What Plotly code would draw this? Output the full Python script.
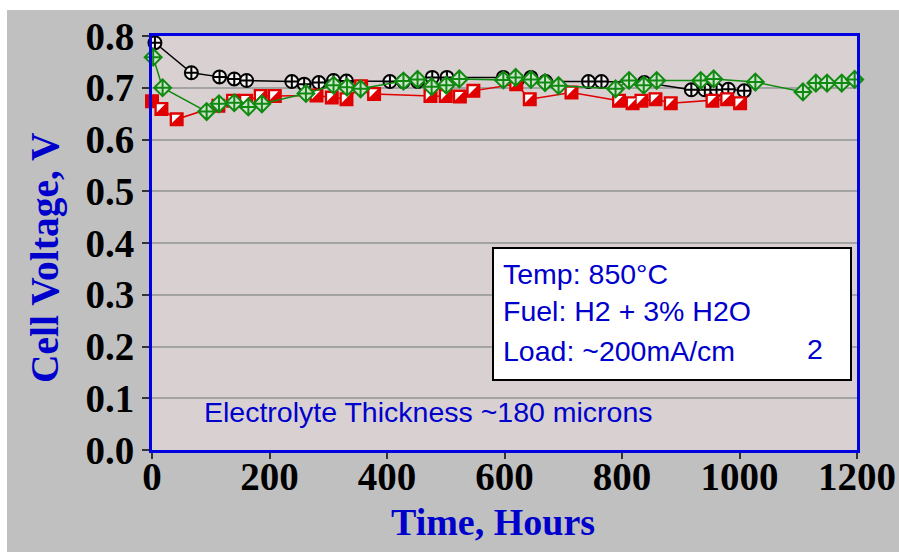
import plotly.graph_objects as go

# ---------------- data ----------------
black_t = [5, 67, 115, 140, 161, 238, 259, 284, 309, 331, 405, 428, 452, 477, 502,
           598, 622, 645, 670, 743, 765, 838, 918, 941, 961, 981, 1008]
black_v = [0.787, 0.729, 0.721, 0.717, 0.714, 0.712, 0.707, 0.710, 0.714, 0.713,
           0.712, 0.712, 0.712, 0.720, 0.720, 0.720, 0.715, 0.720, 0.712, 0.712,
           0.712, 0.710, 0.696, 0.696, 0.696, 0.697, 0.694]

red_t = [0, 16, 42, 113, 138, 160, 185, 209, 280, 306, 331, 356, 378, 474, 500,
         524, 547, 620, 643, 714, 795, 818, 833, 857, 883, 954, 979, 1001]
red_v = [0.674, 0.659, 0.639, 0.665, 0.675, 0.675, 0.684, 0.684, 0.685, 0.681,
         0.678, 0.703, 0.688, 0.684, 0.684, 0.683, 0.694, 0.707, 0.678, 0.691,
         0.675, 0.670, 0.675, 0.678, 0.670, 0.675, 0.678, 0.670]

green_t = [2, 18, 93, 114, 140, 164, 187, 262, 309, 332, 355, 428, 452, 476, 501,
           523, 598, 619, 645, 669, 692, 789, 812, 837, 859, 934, 956, 1027, 1108,
           1130, 1149, 1174, 1196]
green_v = [0.759, 0.700, 0.654, 0.669, 0.671, 0.663, 0.669, 0.689, 0.705, 0.701,
           0.698, 0.713, 0.716, 0.702, 0.705, 0.717, 0.715, 0.720, 0.716, 0.710,
           0.704, 0.698, 0.714, 0.705, 0.714, 0.714, 0.717, 0.711, 0.692, 0.709,
           0.709, 0.709, 0.716]

x_ticks = [0, 200, 400, 600, 800, 1000, 1200]
y_ticks = [0.0, 0.1, 0.2, 0.3, 0.4, 0.5, 0.6, 0.7, 0.8]

info_lines = ["Temp: 850°C", "Fuel: H2 + 3% H2O", "Load: ~200mA/cm"]
info_sup = "2"
note_text = "Electrolyte Thickness ~180 microns"
x_title = "Time, Hours"
y_title = "Cell Voltage, V"

# ---------------- layout constants ----------------
W, H = 899, 552
ML, MR, MT, MB = 152, 42, 36, 102
PW, PH = W - ML - MR, H - MT - MB
XR = [0, 1200]
YR = [0, 0.8]
px_per_x = PW / (XR[1] - XR[0])
px_per_y = PH / (YR[1] - YR[0])
MSIZE = 13
SHIFT = 1.9  # px offset of the white half of the red square markers

BLUE = "#0000e0"
TXT_BLUE = "#0000cc"
PLOT_BG = "#d9d1d1"
PAPER_BG = "#c0c0c0"


def px2paper_x(px):
    return (px - ML) / PW


def px2paper_y(py):
    return (H - MB - py) / PH


fig = go.Figure()

# black series
fig.add_trace(go.Scatter(
    x=black_t, y=black_v, mode="lines+markers", cliponaxis=False,
    line=dict(color="black", width=1.5),
    marker=dict(symbol="circle-cross", size=MSIZE, color="#f4f2f2",
                line=dict(color="black", width=2)),
    showlegend=False, hoverinfo="skip"))

# red series (squares)
fig.add_trace(go.Scatter(
    x=red_t, y=red_v, mode="lines+markers", cliponaxis=False,
    line=dict(color="#e00000", width=1.5),
    marker=dict(symbol="square", size=MSIZE - 0.5, color="#e00000",
                line=dict(color="#e00000", width=1.5)),
    showlegend=False, hoverinfo="skip"))

# white upper-left half of the red squares (drawn on slightly shifted overlay axes)
fig.add_trace(go.Scatter(
    x=red_t, y=red_v, xaxis="x2", yaxis="y2", mode="markers", cliponaxis=False,
    marker=dict(symbol="triangle-nw", size=9.2, color="white", line=dict(width=0)),
    showlegend=False, hoverinfo="skip"))

# green series
fig.add_trace(go.Scatter(
    x=green_t, y=green_v, xaxis="x3", yaxis="y3", mode="lines+markers", cliponaxis=False,
    line=dict(color="#108a10", width=1.5),
    marker=dict(symbol="diamond-cross", size=MSIZE, color="#cfe3cf",
                line=dict(color="#108a10", width=2)),
    showlegend=False, hoverinfo="skip"))

tickfont = dict(family="Liberation Serif", size=39, color="black", weight="bold")

fig.update_layout(
    width=W, height=H,
    margin=dict(l=ML, r=MR, t=MT, b=MB, pad=0, autoexpand=False),
    paper_bgcolor=PAPER_BG, plot_bgcolor=PLOT_BG,
    showlegend=False,
    xaxis=dict(range=XR, tickvals=x_ticks, ticktext=[str(v) for v in x_ticks],
               ticks="outside", ticklen=6, tickwidth=1.5, tickcolor="#333333",
               ticklabelstandoff=-16, automargin=False,
               showgrid=False, zeroline=False,
               showline=True, linecolor=BLUE, linewidth=3, mirror=True,
               tickfont=tickfont),
    yaxis=dict(range=YR, tickvals=y_ticks, ticktext=[f"{v:.1f}" for v in y_ticks],
               ticks="outside", ticklen=7, tickwidth=1.5, tickcolor="#333333",
               automargin=False,
               showgrid=True, gridcolor="#a3a3a3", gridwidth=1.5, zeroline=False,
               showline=True, linecolor=BLUE, linewidth=3, mirror=True,
               tickfont=tickfont),
    xaxis2=dict(overlaying="x", visible=False, automargin=False,
                range=[XR[0] + SHIFT / px_per_x, XR[1] + SHIFT / px_per_x]),
    yaxis2=dict(overlaying="y", visible=False, automargin=False,
                range=[YR[0] - SHIFT / px_per_y, YR[1] - SHIFT / px_per_y]),
    xaxis3=dict(overlaying="x", visible=False, automargin=False, range=XR),
    yaxis3=dict(overlaying="y", visible=False, automargin=False, range=YR),
)

# white strips at the top and left of the picture
fig.add_shape(type="rect", xref="paper", yref="paper", layer="below",
              x0=px2paper_x(-5), x1=px2paper_x(7), y0=px2paper_y(H + 5), y1=px2paper_y(-5),
              fillcolor="white", line=dict(width=0))
fig.add_shape(type="rect", xref="paper", yref="paper", layer="below",
              x0=px2paper_x(-5), x1=px2paper_x(W + 5), y0=px2paper_y(10), y1=px2paper_y(-5),
              fillcolor="white", line=dict(width=0))

# info box
fig.add_shape(type="rect", xref="paper", yref="paper",
              x0=px2paper_x(493), x1=px2paper_x(851),
              y0=px2paper_y(380), y1=px2paper_y(248),
              fillcolor="white", line=dict(color="black", width=2))

info_font = dict(family="Liberation Sans", size=28.5, color=TXT_BLUE)
for i, (txt, cy) in enumerate(zip(info_lines, [274, 311, 351])):
    fig.add_annotation(xref="paper", yref="paper", x=px2paper_x(501), y=px2paper_y(cy),
                       xanchor="left", yanchor="middle", text=txt, showarrow=False,
                       font=info_font)
fig.add_annotation(xref="paper", yref="paper", x=px2paper_x(815), y=px2paper_y(349),
                   xanchor="center", yanchor="middle", text=info_sup, showarrow=False,
                   font=info_font)

fig.add_annotation(xref="paper", yref="paper", x=px2paper_x(202), y=px2paper_y(412),
                   xanchor="left", yanchor="middle", text=note_text, showarrow=False,
                   font=info_font)

title_font = dict(family="Liberation Serif", size=38, color=TXT_BLUE, weight="bold")
fig.add_annotation(xref="paper", yref="paper", x=px2paper_x(493), y=px2paper_y(522),
                   xanchor="center", yanchor="middle", text=x_title, showarrow=False,
                   font=title_font)
fig.add_annotation(xref="paper", yref="paper", x=px2paper_x(45), y=px2paper_y(258),
                   xanchor="center", yanchor="middle", text=y_title, showarrow=False,
                   textangle=-90, font=dict(title_font, size=39.5))

fig.write_html("out.html")
